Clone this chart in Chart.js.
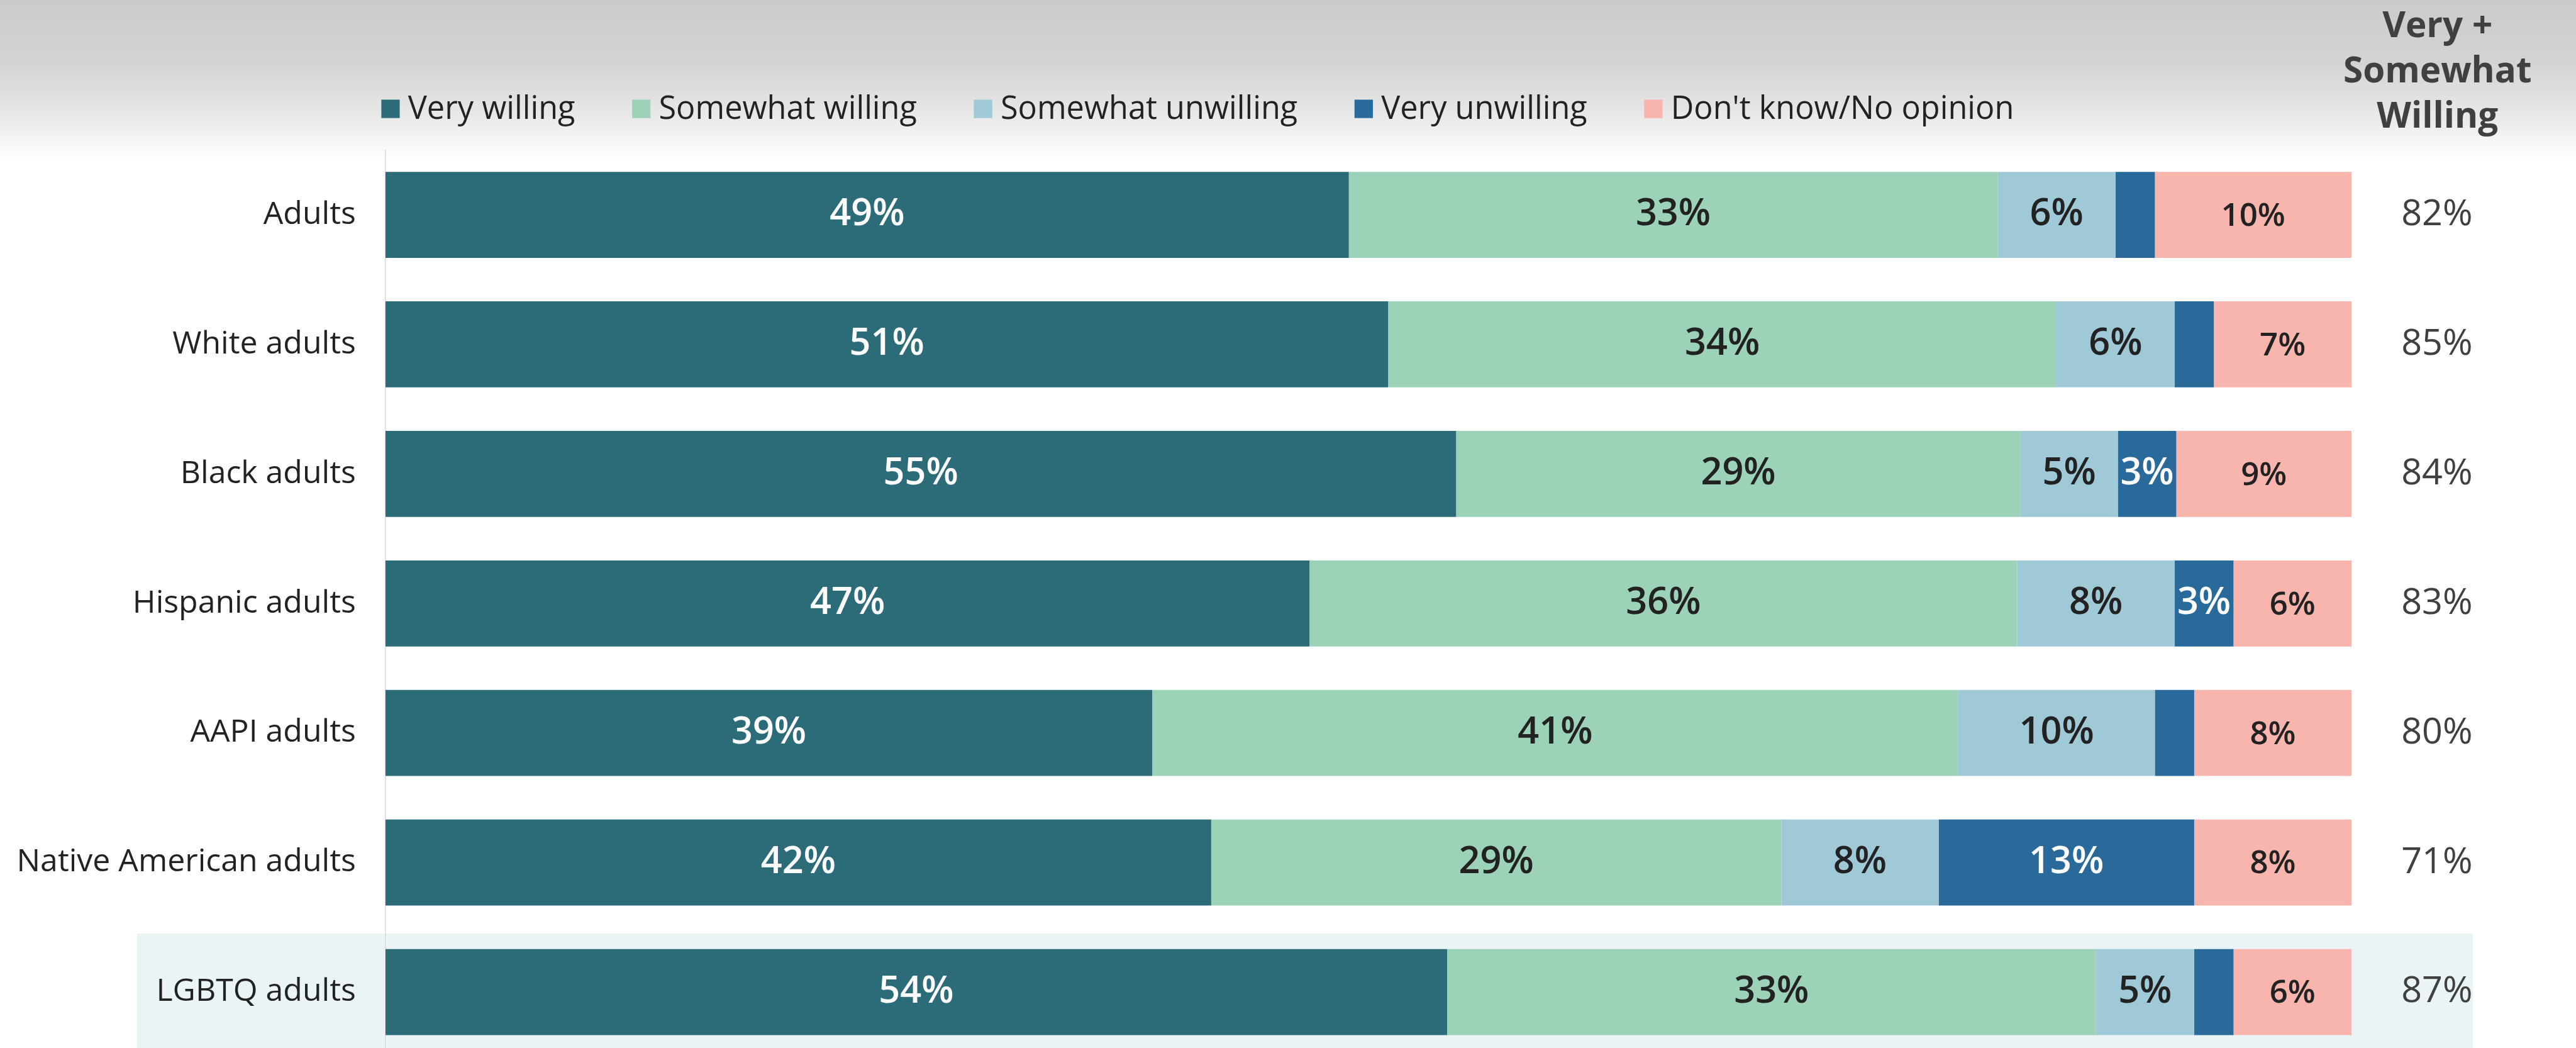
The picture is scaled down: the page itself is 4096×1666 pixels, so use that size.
<!DOCTYPE html>
<html lang="en">
<head>
<meta charset="utf-8">
<title>Willingness by group</title>
<script src="https://cdn.jsdelivr.net/npm/chart.js@4.4.1/dist/chart.umd.min.js"></script>
<style>
  html, body { margin: 0; padding: 0; background: #fff; overflow: hidden; }
  canvas { display: block; }
</style>
</head>
<body>
<canvas id="chart" width="4096" height="1680"></canvas>
<script>
// everything is laid out on a 4342px-wide grid and scaled down
const S = 0.943;
const FONT = "'Open Sans', 'Noto Sans', sans-serif";

const categories = ["Adults", "White adults", "Black adults", "Hispanic adults", "AAPI adults", "Native American adults", "LGBTQ adults"];
const veryWilling       = [49, 51, 55, 47, 39, 42, 54];
const somewhatWilling   = [33, 34, 29, 36, 41, 29, 33];
const somewhatUnwilling = [6, 6, 5, 8, 10, 8, 5];
const veryUnwilling     = [2, 2, 3, 3, 2, 13, 2];
const noOpinion         = [10, 7, 9, 6, 8, 8, 6];

const seriesNames  = ["Very willing", "Somewhat willing", "Somewhat unwilling", "Very unwilling", "Don't know/No opinion"];
const seriesColors = ["#2C6B78", "#9CD2B8", "#9FC9D7", "#296A9B", "#F7B5AE"];
const labelColors  = ["#ffffff", "#222222", "#222222", "#ffffff", "#222222"];
const labelSizes   = [63, 63, 63, 63, 54];
const headerLines  = ["Very +", "Somewhat", "Willing"];
const highlightRow = "LGBTQ adults";

const allSeries = [veryWilling, somewhatWilling, somewhatUnwilling, veryUnwilling, noOpinion];

// each row is drawn as a 100% bar
const rowTotals = categories.map((c, i) => allSeries.reduce((sum, s) => sum + s[i], 0));
// very + somewhat willing column
const willingTotals = categories.map((c, i) => veryWilling[i] + somewhatWilling[i]);

Chart.defaults.font.family = FONT;

// grey fade at the top and the tinted row behind LGBTQ adults
const backdrop = {
  id: "backdrop",
  beforeDraw(chart) {
    const { ctx, width, height } = chart;
    ctx.save();
    ctx.fillStyle = "#ffffff";
    ctx.fillRect(0, 0, width, height);

    const g = ctx.createLinearGradient(0, 0, 0, 268 * S);
    g.addColorStop(0, "#cbcbcb");
    g.addColorStop(0.4, "#d3d3d3");
    g.addColorStop(0.75, "#eaeaea");
    g.addColorStop(0.92, "#f8f8f8");
    g.addColorStop(1, "#ffffff");
    ctx.fillStyle = g;
    ctx.fillRect(0, 0, width, 268 * S);

    const y = chart.scales.y;
    const idx = categories.indexOf(highlightRow);
    const pitch = y.getPixelForValue(1) - y.getPixelForValue(0);
    const cy = y.getPixelForValue(idx);
    ctx.fillStyle = "#EAF3F6";
    ctx.fillRect(231 * S, cy - pitch * 0.451, (4170 - 231) * S, pitch * 0.902);
    ctx.restore();
  }
};

// percentage text inside the segments
const segmentLabels = {
  id: "segmentLabels",
  afterDatasetsDraw(chart) {
    const { ctx } = chart;
    ctx.save();
    ctx.textAlign = "center";
    ctx.textBaseline = "middle";
    chart.data.datasets.forEach((ds, di) => {
      const meta = chart.getDatasetMeta(di);
      ctx.fillStyle = labelColors[di];
      ctx.font = `600 ${labelSizes[di] * S}px ${FONT}`;
      meta.data.forEach((bar, i) => {
        const v = ds.values[i];
        if (v < 3) return;
        const { x, base, y } = bar.getProps(["x", "base", "y"], true);
        ctx.fillText(v + "%", (x + base) / 2, y + (di === 4 ? 3 * S : 0));
      });
    });
    ctx.restore();
  }
};

// legend row, right-hand header and the willing totals
const sideText = {
  id: "sideText",
  afterDraw(chart) {
    const { ctx } = chart;
    const y = chart.scales.y;
    ctx.save();

    ctx.font = `${53.5 * S}px ${FONT}`;
    ctx.textBaseline = "alphabetic";
    ctx.textAlign = "left";
    let x = 643 * S;
    seriesNames.forEach((name, i) => {
      ctx.fillStyle = seriesColors[i];
      ctx.fillRect(x, 168 * S, 31 * S, 31 * S);
      ctx.fillStyle = "#222222";
      ctx.fillText(name, x + 45 * S, 200 * S);
      x += 45 * S + ctx.measureText(name).width + 96 * S;
    });

    ctx.fillStyle = "#404040";
    ctx.textAlign = "center";
    ctx.font = `bold ${60 * S}px ${FONT}`;
    headerLines.forEach((line, i) => {
      ctx.fillText(line, 4110 * S, (63 + i * 76) * S);
    });

    ctx.font = `${61 * S}px ${FONT}`;
    ctx.textBaseline = "middle";
    willingTotals.forEach((t, i) => {
      ctx.fillText(t + "%", 4109 * S, y.getPixelForValue(i));
    });
    ctx.restore();
  }
};

new Chart(document.getElementById("chart"), {
  type: "bar",
  data: {
    labels: categories,
    datasets: allSeries.map((values, i) => ({
      label: seriesNames[i],
      values: values,
      data: values.map((v, r) => v / rowTotals[r] * 100),
      backgroundColor: seriesColors[i],
      borderWidth: 0,
      categoryPercentage: 1,
      barPercentage: 0.664
    }))
  },
  options: {
    indexAxis: "y",
    responsive: false,
    animation: false,
    layout: {
      padding: { top: 253 * S, right: 4096 - 3965 * S, bottom: 0, left: 0 }
    },
    plugins: {
      legend: { display: false },
      tooltip: { enabled: false }
    },
    scales: {
      x: { stacked: true, min: 0, max: 100, display: false },
      y: {
        stacked: true,
        grid: { display: false, drawTicks: false },
        border: { display: true, color: "#d9d9d9", width: 1.5 },
        ticks: { color: "#222222", font: { size: 53 * S }, padding: 50 * S },
        // fixed gutter for the row names; rows run to the bottom edge
        afterFit: scale => {
          scale.width = 650 * S;
          scale.paddingTop = 0;
          scale.paddingBottom = 0;
        }
      }
    }
  },
  plugins: [backdrop, segmentLabels, sideText]
});
</script>
</body>
</html>
